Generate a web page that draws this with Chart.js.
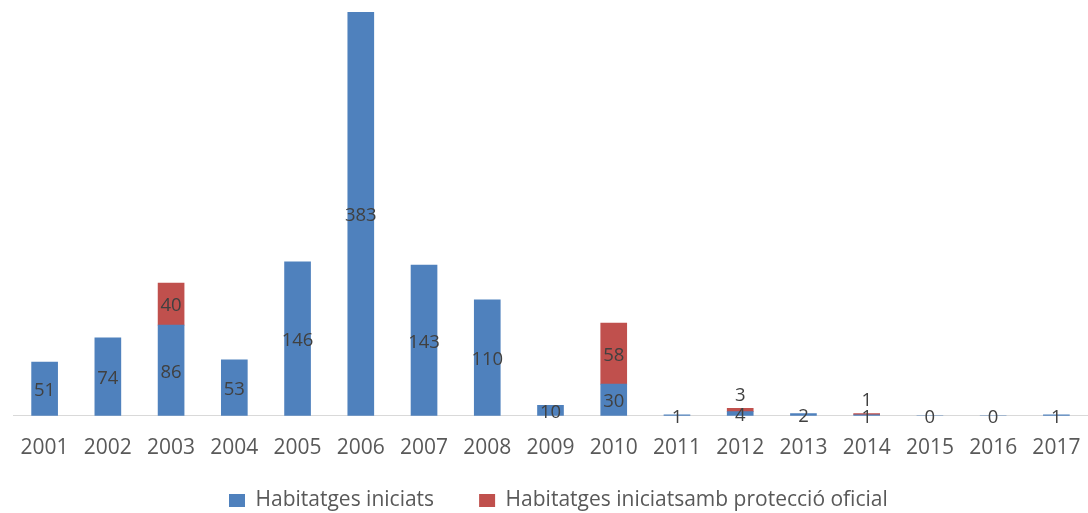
<!DOCTYPE html>
<html>
<head>
<meta charset="utf-8">
<script src="https://cdn.jsdelivr.net/npm/chart.js@4.4.0/dist/chart.umd.min.js"></script>
<style>
html,body{margin:0;padding:0;background:#fff;}
#wrap{width:1088px;height:513px;}
</style>
</head>
<body>
<div id="wrap"><canvas id="c" width="1088" height="513"></canvas></div>
<script>
const categories = ['2001','2002','2003','2004','2005','2006','2007','2008','2009','2010','2011','2012','2013','2014','2015','2016','2017'];
const habitatgesIniciats = [51,74,86,53,146,383,143,110,10,30,1,4,2,1,0,0,1];
const habitatgesProteccio = [null,null,40,null,null,null,null,null,null,58,null,3,null,1,null,null,null];
const seriesNames = ['Habitatges iniciats','Habitatges iniciatsamb protecció oficial'];

const FONT = '"Open Sans", "Liberation Sans", sans-serif';

const labelPlugin = {
  id: 'barLabels',
  afterDatasetsDraw(chart) {
    const ctx = chart.ctx;
    ctx.save();
    ctx.font = '18.5px ' + FONT;
    ctx.fillStyle = '#404040';
    ctx.textAlign = 'center';
    ctx.textBaseline = 'middle';
    chart.data.datasets.forEach((ds, di) => {
      const meta = chart.getDatasetMeta(di);
      meta.data.forEach((el, i) => {
        const v = ds.data[i];
        if (v === null || v === undefined) return;
        let y = (el.y + el.base) / 2;
        if (di === 1 && Math.abs(el.base - el.y) < 20) y = el.y - 15;
        ctx.fillText(String(v), el.x, y + 2);
      });
    });
    ctx.restore();
  }
};

const legendPlace = {
  id: 'legendPlace',
  afterLayout(chart) {
    const lg = chart.legend;
    if (!lg) return;
    const pad = lg.options.labels.padding;
    const w = lg.width;
    lg.left = 229 - pad;
    lg.right = lg.left + w;
    lg.top = 490 - pad;
  }
};

new Chart(document.getElementById('c'), {
  type: 'bar',
  data: {
    labels: categories,
    datasets: [
      { label: seriesNames[0], data: habitatgesIniciats, backgroundColor: '#4F81BD', barThickness: 26 },
      { label: seriesNames[1], data: habitatgesProteccio, backgroundColor: '#C0504D', barThickness: 26 }
    ]
  },
  options: {
    responsive: false,
    animation: false,
    layout: { padding: { left: 13, right: 0, top: 12, bottom: 0 } },
    plugins: {
      legend: {
        position: 'bottom',
        align: 'start',
        maxHeight: 32,
        labels: {
          font: { family: FONT, size: 21 },
          color: '#595959',
          boxWidth: 16,
          boxHeight: 13,
          padding: 45
        }
      },
      tooltip: { enabled: false }
    },
    scales: {
      x: {
        stacked: true,
        grid: { display: false, drawTicks: false },
        border: { display: true, color: '#d9d9d9', width: 1 },
        ticks: { font: { family: FONT, size: 21 }, color: '#595959', padding: 20, maxRotation: 0, autoSkip: false },
        afterFit(scale) { scale.paddingLeft = 0; scale.paddingRight = 0; }
      },
      y: {
        stacked: true,
        display: false,
        min: 0,
        max: 383
      }
    }
  },
  plugins: [labelPlugin, legendPlace]
});
</script>
</body>
</html>
